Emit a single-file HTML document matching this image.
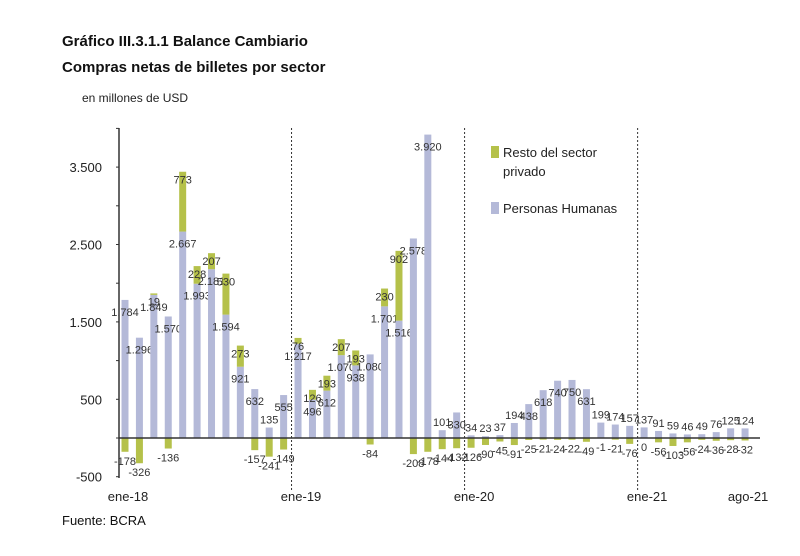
<!DOCTYPE html>
<html><head><meta charset="utf-8"><style>
body{margin:0;background:#fff;font-family:"Liberation Sans",sans-serif}
svg text{font-family:"Liberation Sans",sans-serif}
</style></head><body>
<svg width="800" height="551">
<text x="62" y="46" font-size="15" font-weight="bold" fill="#111">Gráfico III.3.1.1 Balance Cambiario</text>
<text x="62" y="72" font-size="15" font-weight="bold" fill="#111">Compras netas de billetes por sector</text>
<text x="82" y="102" font-size="12" fill="#222">en millones de USD</text>
<text x="62" y="525" font-size="13" fill="#111">Fuente: BCRA</text>
<g id="plot"></g>
<g>
<rect x="491" y="146" width="8" height="12" fill="#b5c14a"/>
<text x="503" y="157" font-size="13" fill="#222">Resto del sector</text>
<text x="503" y="176" font-size="13" fill="#222">privado</text>
<rect x="491" y="202" width="8" height="12" fill="#b4b9d8"/>
<text x="503" y="213" font-size="13" fill="#222">Personas Humanas</text>
</g>
</svg>
<script>
const personas=[1784,1296,1849,1570,2667,1993,2181,1594,921,632,135,555,
1217,496,612,1070,938,1080,1701,1516,2578,3920,101,330,
34,23,37,194,438,618,740,750,631,199,174,157,
137,91,59,46,49,76,125,124];
const resto=[-178,-326,19,-136,773,228,207,530,273,-157,-241,-149,
76,126,193,207,193,-84,230,902,-208,-178,-144,-132,
-126,-90,-45,-91,-25,-21,-24,-22,-49,-1,-21,-76,
0,-56,-103,-56,-24,-36,-28,-32];
const yTicks=[-500,500,1500,2500,3500];
const yTickLabels=["-500","500","1.500","2.500","3.500"];
const xLabels=[[0,"ene-18"],[12,"ene-19"],[24,"ene-20"],[36,"ene-21"],[43,"ago-21"]];
const NS="http://www.w3.org/2000/svg";
const g=document.getElementById('plot');
const y=v=>438-v*0.0774;
const x=i=>125+i*14.42;
const fmt=v=>{const s=Math.abs(v).toString();const t=s.length>3?s.slice(0,-3)+"."+s.slice(-3):s;return (v<0?"-":"")+t;};
function mk(tag,attrs){const e=document.createElementNS(NS,tag);for(const k in attrs)e.setAttribute(k,attrs[k]);g.appendChild(e);return e;}
let ax=mk('line',{x1:119,y1:128,x2:119,y2:478,stroke:'#333','stroke-width':1.5});


for(let v=-500;v<=4000;v+=500){const t=mk('line',{x1:116,x2:119,y1:y(v),y2:y(v),stroke:'#333'});

}
yTicks.forEach((v,k)=>{const t=mk('text',{x:102,y:y(v)+5,'font-size':13,'text-anchor':'end',fill:'#222'});t.textContent=yTickLabels[k];

});
[12,24,36].forEach(i=>{const l=mk('line',{x1:x(i)-6.5,x2:x(i)-6.5,y1:128,y2:490,stroke:'#333','stroke-dasharray':'2,2'});

});
xLabels.forEach(([i,s])=>{const t=mk('text',{x:x(i)+3,y:501,'font-size':13,'text-anchor':'middle',fill:'#222'});t.textContent=s;

});
personas.forEach((p,i)=>{
 const r=resto[i],cx=x(i),w=7;
 const b=mk('rect',{x:cx-w/2,y:y(p),width:w,height:y(0)-y(p),fill:'#b4b9d8'});
 
 
 let ry,rh;
 if(r>=0){ry=y(p+r);rh=y(p)-y(p+r);}else{ry=y(0);rh=y(r)-y(0);}
 const c=mk('rect',{x:cx-w/2,y:ry,width:w,height:rh,fill:'#b5c14a'});
 
 
 const pl=mk('text',{x:cx,y:y(p)+(p>300?16:-4),'font-size':11,'text-anchor':'middle',fill:'#333'});pl.textContent=fmt(p);
 
 
 const rl=mk('text',{x:cx,y:r>0?y(p+r)-(p>300?-12:16):y(r)+13,'font-size':11,'text-anchor':'middle',fill:'#333'});rl.textContent=fmt(r);
 
 
});
const z=mk('line',{x1:119,x2:760,y1:y(0),y2:y(0),stroke:'#333','stroke-width':1.5});


</script>
</body></html>
